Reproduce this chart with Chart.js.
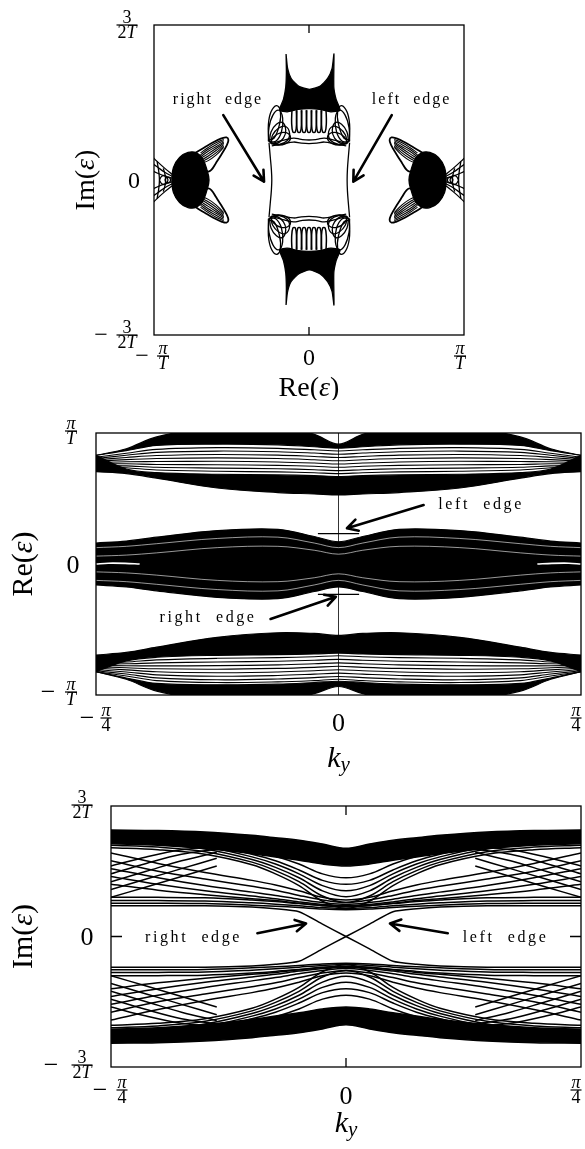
<!DOCTYPE html>
<html>
<head>
<meta charset="utf-8">
<script src="https://cdn.jsdelivr.net/npm/chart.js@4.4.1/dist/chart.umd.min.js"></script>
<style>
  body { margin: 0; background: #fff; width: 585px; height: 1149px; position: relative; overflow: hidden; }
  canvas { position: absolute; left: 0; }
</style>
</head>
<body>
<canvas id="specChart" width="585" height="400" style="top:0"></canvas>
<canvas id="reChart" width="585" height="380" style="top:400px"></canvas>
<canvas id="imChart" width="585" height="369" style="top:780px"></canvas>
<script>
// ---------- tick labels ----------
const specXTicks = [-1, 0, 1];
const specXTickText = ['−π/T', '0', 'π/T'];
const specYTicks = [1, 0, -1];
const specYTickText = ['3/2T', '0', '−3/2T'];
const bandXTicks = [-1, 0, 1];
const bandXTickText = ['−π/4', '0', 'π/4'];
const reYTicks = [1, 0, -1];
const reYTickText = ['π/T', '0', '−π/T'];
const imYTicks = [1, 0, -1];
const imYTickText = ['3/2T', '0', '−3/2T'];

// ---------- panel 1: Im(eps) against Re(eps); x in pi/T, y in 3/(2T) ----------
const specMassX = [-0.148, -0.146, -0.15, -0.165, -0.19, -0.14, -0.07, 0.0, 0.07, 0.14, 0.2, 0.175, 0.16, 0.161, 0.149, 0.12, 0.07, 0.003, -0.065, -0.115, -0.138, -0.148];
const specMassUpY = [0.813, 0.70, 0.60, 0.52, 0.45, 0.44, 0.455, 0.46, 0.455, 0.44, 0.45, 0.52, 0.60, 0.813, 0.72, 0.655, 0.605, 0.585, 0.605, 0.655, 0.72, 0.813];
const specMassDownY = [-0.806, -0.70, -0.60, -0.52, -0.45, -0.44, -0.455, -0.46, -0.455, -0.44, -0.45, -0.52, -0.60, -0.806, -0.72, -0.655, -0.605, -0.58, -0.605, -0.655, -0.72, -0.806];

const specFinger1X = [-0.11, -0.112, -0.104, -0.088, -0.08, -0.082];
const specFinger2X = [-0.078, -0.08, -0.072, -0.056, -0.048, -0.05];
const specFinger3X = [-0.046, -0.048, -0.04, -0.024, -0.016, -0.018];
const specFinger4X = [-0.014, -0.016, -0.008, 0.008, 0.016, 0.014];
const specFinger5X = [0.018, 0.016, 0.024, 0.04, 0.048, 0.046];
const specFinger6X = [0.05, 0.048, 0.056, 0.072, 0.08, 0.078];
const specFinger7X = [0.082, 0.08, 0.088, 0.104, 0.112, 0.11];
const specFingerUpY = [0.45, 0.37, 0.31, 0.31, 0.37, 0.45];
const specFingerDownY = [-0.45, -0.37, -0.31, -0.31, -0.37, -0.45];

const specLoopALeftX = [-0.262, -0.258, -0.232, -0.195, -0.17, -0.178, -0.215, -0.262];
const specLoopARightX = [0.262, 0.258, 0.232, 0.195, 0.17, 0.178, 0.215, 0.262];
const specLoopAUpY = [0.25, 0.34, 0.42, 0.45, 0.40, 0.31, 0.25, 0.25];
const specLoopADownY = [-0.25, -0.34, -0.42, -0.45, -0.40, -0.31, -0.25, -0.25];
const specLoopBLeftX = [-0.255, -0.245, -0.21, -0.17, -0.15, -0.165, -0.21, -0.255];
const specLoopBRightX = [0.255, 0.245, 0.21, 0.17, 0.15, 0.165, 0.21, 0.255];
const specLoopBUpY = [0.245, 0.31, 0.36, 0.37, 0.32, 0.27, 0.235, 0.245];
const specLoopBDownY = [-0.245, -0.31, -0.36, -0.37, -0.32, -0.27, -0.235, -0.245];
const specLoopCLeftX = [-0.25, -0.225, -0.18, -0.135, -0.12, -0.15, -0.2, -0.25];
const specLoopCRightX = [0.25, 0.225, 0.18, 0.135, 0.12, 0.15, 0.2, 0.25];
const specLoopCUpY = [0.24, 0.28, 0.305, 0.30, 0.265, 0.235, 0.225, 0.24];
const specLoopCDownY = [-0.24, -0.28, -0.305, -0.30, -0.265, -0.235, -0.225, -0.24];
const specLoopDLeftX = [-0.26, -0.262, -0.245, -0.21, -0.185, -0.19, -0.225, -0.26];
const specLoopDRightX = [0.26, 0.262, 0.245, 0.21, 0.185, 0.19, 0.225, 0.26];
const specLoopDUpY = [0.26, 0.36, 0.44, 0.48, 0.45, 0.36, 0.27, 0.26];
const specLoopDDownY = [-0.26, -0.36, -0.44, -0.48, -0.45, -0.36, -0.27, -0.26];
const specLoopELeftX = [-0.245, -0.235, -0.195, -0.15, -0.125, -0.14, -0.19, -0.245];
const specLoopERightX = [0.245, 0.235, 0.195, 0.15, 0.125, 0.14, 0.19, 0.245];
const specLoopEUpY = [0.235, 0.29, 0.335, 0.345, 0.30, 0.255, 0.23, 0.235];
const specLoopEDownY = [-0.235, -0.29, -0.335, -0.345, -0.30, -0.255, -0.23, -0.235];

const specWaveX = [-0.24, -0.17, -0.1, -0.05, 0, 0.05, 0.1, 0.17, 0.24];
const specWave1Y = [0.235, 0.255, 0.27, 0.262, 0.258, 0.262, 0.27, 0.255, 0.235];
const specWave2Y = [0.22, 0.232, 0.245, 0.238, 0.235, 0.238, 0.245, 0.232, 0.22];
const specWave3Y = [-0.235, -0.255, -0.27, -0.262, -0.258, -0.262, -0.27, -0.255, -0.235];
const specWave4Y = [-0.22, -0.232, -0.245, -0.238, -0.235, -0.238, -0.245, -0.232, -0.22];

const specEdgeLeftX = [-0.258, -0.25, -0.243, -0.24, -0.243, -0.25, -0.258];
const specEdgeRightX = [0.262, 0.254, 0.248, 0.246, 0.248, 0.254, 0.262];
const specEdgeY = [0.24, 0.15, 0.07, 0, -0.07, -0.15, -0.24];

const specBodyLeftX = [-0.885, -0.875, -0.835, -0.78, -0.725, -0.685, -0.66, -0.645, -0.66, -0.685, -0.725, -0.78, -0.835, -0.875, -0.885];
const specBodyRightX = [0.885, 0.875, 0.835, 0.78, 0.725, 0.685, 0.66, 0.645, 0.66, 0.685, 0.725, 0.78, 0.835, 0.875, 0.885];
const specBodyY = [0, 0.08, 0.145, 0.178, 0.175, 0.135, 0.07, 0, -0.07, -0.135, -0.175, -0.178, -0.145, -0.08, 0];

const specWingLeftX = [-0.74, -0.675, -0.615, -0.565, -0.532, -0.52, -0.53, -0.565, -0.6, -0.63, -0.655, -0.7, -0.74];
const specWingRightX = [0.74, 0.675, 0.615, 0.565, 0.532, 0.52, 0.53, 0.565, 0.6, 0.63, 0.655, 0.7, 0.74];
const specWingUpY = [0.17, 0.21, 0.245, 0.268, 0.275, 0.258, 0.225, 0.165, 0.11, 0.065, 0.055, 0.1, 0.17];
const specWingDownY = [-0.17, -0.21, -0.245, -0.268, -0.275, -0.258, -0.225, -0.165, -0.11, -0.065, -0.055, -0.1, -0.17];
const specRibLeftX = [-0.70, -0.65, -0.60, -0.55];
const specRibRightX = [0.70, 0.65, 0.60, 0.55];
const specRib1Y = [0.175, 0.21, 0.24, 0.262];
const specRib2Y = [0.162, 0.198, 0.228, 0.254];
const specRib3Y = [0.15, 0.185, 0.215, 0.245];
const specRib4Y = [0.138, 0.17, 0.203, 0.237];
const specRib5Y = [0.125, 0.155, 0.19, 0.228];
const specRib6Y = [0.115, 0.14, 0.175, 0.219];
const specRib7Y = [0.105, 0.125, 0.16, 0.21];
const specRib8Y = [-0.175, -0.21, -0.24, -0.262];
const specRib9Y = [-0.162, -0.198, -0.228, -0.254];
const specRib10Y = [-0.15, -0.185, -0.215, -0.245];
const specRib11Y = [-0.138, -0.17, -0.203, -0.237];
const specRib12Y = [-0.125, -0.155, -0.19, -0.228];
const specRib13Y = [-0.115, -0.14, -0.175, -0.219];
const specRib14Y = [-0.105, -0.125, -0.16, -0.21];

const specBowLeftX = [-0.875, -0.93, -0.98, -1.03];
const specBowRightX = [0.875, 0.93, 0.98, 1.03];
const specBow1Y = [0.03, 0.075, 0.12, 0.17];
const specBow2Y = [0.02, 0.05, 0.085, 0.12];
const specBow3Y = [0.01, 0.025, 0.045, 0.07];
const specBow4Y = [-0.03, -0.075, -0.12, -0.17];
const specBow5Y = [-0.02, -0.05, -0.085, -0.12];
const specBow6Y = [-0.01, -0.025, -0.045, -0.07];
const specArcOuterLeftX = [-0.98, -0.97, -0.965, -0.97, -0.98];
const specArcOuterRightX = [0.98, 0.97, 0.965, 0.97, 0.98];
const specArcOuterY = [0.12, 0.06, 0, -0.06, -0.12];
const specArcInnerLeftX = [-0.94, -0.93, -0.925, -0.93, -0.94];
const specArcInnerRightX = [0.94, 0.93, 0.925, 0.93, 0.94];
const specArcInnerY = [0.075, 0.04, 0, -0.04, -0.075];
const specRing1LeftX = [-0.965, -0.95, -0.925, -0.91, -0.925, -0.95, -0.965];
const specRing1RightX = [0.965, 0.95, 0.925, 0.91, 0.925, 0.95, 0.965];
const specRing1Y = [0, 0.024, 0.027, 0, -0.027, -0.024, 0];
const specRing2LeftX = [-0.93, -0.92, -0.903, -0.893, -0.903, -0.92, -0.93];
const specRing2RightX = [0.93, 0.92, 0.903, 0.893, 0.903, 0.92, 0.93];
const specRing2Y = [0, 0.015, 0.017, 0, -0.017, -0.015, 0];

// ---------- panel 2: Re(eps) against k_y; x in pi/4, y in pi/T ----------
const reK = [-1, -0.875, -0.75, -0.5, -0.25, -0.1, 0, 0.1, 0.25, 0.5, 0.75, 0.875, 1];
const reTopCapUp = [0.83, 0.88, 0.97, 1.05, 1.05, 0.99, 0.915, 0.99, 1.05, 1.05, 0.97, 0.88, 0.83];
const reTopCapLow = [0.83, 0.865, 0.905, 0.915, 0.91, 0.895, 0.885, 0.895, 0.91, 0.915, 0.905, 0.865, 0.83];
const reTopS1 = [0.815, 0.845, 0.875, 0.888, 0.883, 0.872, 0.863, 0.872, 0.883, 0.888, 0.875, 0.845, 0.815];
const reTopS2 = [0.805, 0.83, 0.852, 0.862, 0.857, 0.847, 0.838, 0.847, 0.857, 0.862, 0.852, 0.83, 0.805];
const reTopS3 = [0.795, 0.813, 0.828, 0.836, 0.831, 0.821, 0.813, 0.821, 0.831, 0.836, 0.828, 0.813, 0.795];
const reTopS4 = [0.785, 0.797, 0.805, 0.81, 0.805, 0.796, 0.788, 0.796, 0.805, 0.81, 0.805, 0.797, 0.785];
const reTopS5 = [0.775, 0.781, 0.782, 0.784, 0.779, 0.771, 0.763, 0.771, 0.779, 0.784, 0.782, 0.781, 0.775];
const reTopS6 = [0.765, 0.765, 0.76, 0.758, 0.753, 0.746, 0.738, 0.746, 0.753, 0.758, 0.76, 0.765, 0.765];
const reTopS7 = [0.755, 0.749, 0.738, 0.732, 0.727, 0.72, 0.713, 0.72, 0.727, 0.732, 0.738, 0.749, 0.755];
const reTopS8 = [0.745, 0.735, 0.717, 0.708, 0.703, 0.697, 0.69, 0.697, 0.703, 0.708, 0.717, 0.735, 0.745];
const reTopThickUp = [0.83, 0.725, 0.698, 0.685, 0.68, 0.675, 0.668, 0.675, 0.68, 0.685, 0.698, 0.725, 0.83];
const reTopLow = [0.705, 0.69, 0.655, 0.58, 0.545, 0.535, 0.527, 0.535, 0.545, 0.58, 0.655, 0.69, 0.705];

const reMidUp = [0.16, 0.175, 0.205, 0.255, 0.265, 0.21, 0.17, 0.21, 0.265, 0.255, 0.205, 0.175, 0.16];
const reMidLow = [-0.16, -0.175, -0.205, -0.255, -0.265, -0.21, -0.175, -0.21, -0.265, -0.255, -0.205, -0.175, -0.16];
const reMidGapA = [0.125, 0.135, 0.155, 0.195, 0.205, 0.16, 0.125, 0.16, 0.205, 0.195, 0.155, 0.135, 0.125];
const reMidGapB = [0.06, 0.068, 0.085, 0.125, 0.135, 0.105, 0.075, 0.105, 0.135, 0.125, 0.085, 0.068, 0.06];
const reMidGapC = [-0.06, -0.068, -0.085, -0.125, -0.135, -0.105, -0.075, -0.105, -0.135, -0.125, -0.085, -0.068, -0.06];
const reMidGapD = [-0.125, -0.135, -0.155, -0.195, -0.205, -0.16, -0.125, -0.16, -0.205, -0.195, -0.155, -0.135, -0.125];
const reLensLeftX = [-1, -0.95, -0.88, -0.82];
const reLensRightX = [1, 0.95, 0.88, 0.82];
const reLensY = [0, 0.006, 0.005, 0];
const reEdgeX = [-0.085, 0, 0.085];
const reEdgeUpY = [0.232, 0.232, 0.232];
const reEdgeLowY = [-0.232, -0.232, -0.232];

const reBotThickUp = [-0.695, -0.675, -0.635, -0.56, -0.525, -0.53, -0.545, -0.53, -0.525, -0.56, -0.635, -0.675, -0.695];
const reBotThickLow = [-0.822, -0.74, -0.712, -0.697, -0.692, -0.687, -0.68, -0.687, -0.692, -0.697, -0.712, -0.74, -0.822];
const reBotS1 = [-0.755, -0.748, -0.732, -0.72, -0.715, -0.708, -0.7, -0.708, -0.715, -0.72, -0.732, -0.748, -0.755];
const reBotS2 = [-0.765, -0.762, -0.755, -0.748, -0.742, -0.735, -0.728, -0.735, -0.742, -0.748, -0.755, -0.762, -0.765];
const reBotS3 = [-0.775, -0.777, -0.778, -0.776, -0.77, -0.762, -0.755, -0.762, -0.77, -0.776, -0.778, -0.777, -0.775];
const reBotS4 = [-0.785, -0.792, -0.8, -0.803, -0.797, -0.789, -0.781, -0.789, -0.797, -0.803, -0.8, -0.792, -0.785];
const reBotS5 = [-0.795, -0.808, -0.823, -0.83, -0.824, -0.815, -0.807, -0.815, -0.824, -0.83, -0.823, -0.808, -0.795];
const reBotS6 = [-0.805, -0.824, -0.846, -0.857, -0.851, -0.841, -0.833, -0.841, -0.851, -0.857, -0.846, -0.824, -0.805];
const reBotS7 = [-0.815, -0.84, -0.869, -0.884, -0.878, -0.867, -0.859, -0.867, -0.878, -0.884, -0.869, -0.84, -0.815];
const reBotS8 = [-0.822, -0.855, -0.89, -0.905, -0.9, -0.89, -0.88, -0.89, -0.9, -0.905, -0.89, -0.855, -0.822];
const reBotCapUp = [-0.822, -0.87, -0.912, -0.922, -0.917, -0.905, -0.895, -0.905, -0.917, -0.922, -0.912, -0.87, -0.822];
const reBotCapLow = [-0.822, -0.88, -0.97, -1.05, -1.05, -0.99, -0.935, -0.99, -1.05, -1.05, -0.97, -0.88, -0.822];

// ---------- panel 3: Im(eps) against k_y; x in pi/4, y in 3/(2T) ----------
const imK = [-1, -0.8, -0.6, -0.4, -0.3, -0.2, -0.1, 0, 0.1, 0.2, 0.3, 0.4, 0.6, 0.8, 1];
const imTopEnv = [0.816, 0.812, 0.80, 0.775, 0.757, 0.737, 0.708, 0.676, 0.708, 0.737, 0.757, 0.775, 0.80, 0.812, 0.816];
const imTopDark = [0.71, 0.70, 0.675, 0.635, 0.61, 0.585, 0.555, 0.54, 0.555, 0.585, 0.61, 0.635, 0.675, 0.70, 0.71];
const imBowl1 = [0.68, 0.665, 0.63, 0.55, 0.48, 0.39, 0.27, 0.215, 0.27, 0.39, 0.48, 0.55, 0.63, 0.665, 0.68];
const imBowl2 = [0.70, 0.685, 0.65, 0.57, 0.505, 0.42, 0.31, 0.26, 0.31, 0.42, 0.505, 0.57, 0.65, 0.685, 0.70];
const imBowl3 = [0.72, 0.705, 0.67, 0.59, 0.53, 0.45, 0.35, 0.305, 0.35, 0.45, 0.53, 0.59, 0.67, 0.705, 0.72];
const imBowl4 = [0.74, 0.725, 0.69, 0.61, 0.555, 0.48, 0.39, 0.35, 0.39, 0.48, 0.555, 0.61, 0.69, 0.725, 0.74];
const imBowl5 = [0.76, 0.745, 0.71, 0.63, 0.58, 0.51, 0.43, 0.40, 0.43, 0.51, 0.58, 0.63, 0.71, 0.745, 0.76];
const imBowl6 = [0.78, 0.765, 0.735, 0.66, 0.615, 0.555, 0.48, 0.45, 0.48, 0.555, 0.615, 0.66, 0.735, 0.765, 0.78];
const imCross1 = [0.64, 0.56, 0.49, 0.43, 0.395, 0.35, 0.30, 0.28, 0.30, 0.35, 0.395, 0.43, 0.49, 0.56, 0.64];
const imCross2 = [0.58, 0.50, 0.44, 0.385, 0.355, 0.315, 0.28, 0.26, 0.28, 0.315, 0.355, 0.385, 0.44, 0.50, 0.58];
const imCross3 = [0.52, 0.45, 0.39, 0.34, 0.315, 0.285, 0.26, 0.245, 0.26, 0.285, 0.315, 0.34, 0.39, 0.45, 0.52];
const imCross4 = [0.46, 0.40, 0.35, 0.31, 0.29, 0.265, 0.245, 0.235, 0.245, 0.265, 0.29, 0.31, 0.35, 0.40, 0.46];
const imCross5 = [0.40, 0.355, 0.32, 0.29, 0.275, 0.255, 0.238, 0.23, 0.238, 0.255, 0.275, 0.29, 0.32, 0.355, 0.40];
const imFlat1 = [0.255, 0.255, 0.252, 0.24, 0.232, 0.222, 0.21, 0.205, 0.21, 0.222, 0.232, 0.24, 0.252, 0.255, 0.255];
const imFlat2 = [0.275, 0.275, 0.272, 0.258, 0.248, 0.235, 0.222, 0.215, 0.222, 0.235, 0.248, 0.258, 0.272, 0.275, 0.275];
const imFlat3 = [0.30, 0.30, 0.296, 0.28, 0.268, 0.252, 0.236, 0.228, 0.236, 0.252, 0.268, 0.28, 0.296, 0.30, 0.30];
const imEdgeR = [0.236, 0.236, 0.235, 0.226, 0.213, 0.19, 0.095, 0, -0.095, -0.19, -0.213, -0.226, -0.235, -0.236, -0.236];
const imEdgeL = [-0.236, -0.236, -0.235, -0.226, -0.213, -0.19, -0.095, 0, 0.095, 0.19, 0.213, 0.226, 0.235, 0.236, 0.236];

const imBotEnv = [-0.818, -0.814, -0.80, -0.775, -0.757, -0.737, -0.708, -0.676, -0.708, -0.737, -0.757, -0.775, -0.80, -0.814, -0.818];
const imBotDark = [-0.71, -0.70, -0.675, -0.635, -0.61, -0.585, -0.555, -0.54, -0.555, -0.585, -0.61, -0.635, -0.675, -0.70, -0.71];
const imBowl7 = [-0.68, -0.665, -0.63, -0.55, -0.48, -0.39, -0.27, -0.215, -0.27, -0.39, -0.48, -0.55, -0.63, -0.665, -0.68];
const imBowl8 = [-0.70, -0.685, -0.65, -0.57, -0.505, -0.42, -0.31, -0.26, -0.31, -0.42, -0.505, -0.57, -0.65, -0.685, -0.70];
const imBowl9 = [-0.72, -0.705, -0.67, -0.59, -0.53, -0.45, -0.35, -0.305, -0.35, -0.45, -0.53, -0.59, -0.67, -0.705, -0.72];
const imBowl10 = [-0.74, -0.725, -0.69, -0.61, -0.555, -0.48, -0.39, -0.35, -0.39, -0.48, -0.555, -0.61, -0.69, -0.725, -0.74];
const imBowl11 = [-0.76, -0.745, -0.71, -0.63, -0.58, -0.51, -0.43, -0.40, -0.43, -0.51, -0.58, -0.63, -0.71, -0.745, -0.76];
const imBowl12 = [-0.78, -0.765, -0.735, -0.66, -0.615, -0.555, -0.48, -0.45, -0.48, -0.555, -0.615, -0.66, -0.735, -0.765, -0.78];
const imCross6 = [-0.64, -0.56, -0.49, -0.43, -0.395, -0.35, -0.30, -0.28, -0.30, -0.35, -0.395, -0.43, -0.49, -0.56, -0.64];
const imCross7 = [-0.58, -0.50, -0.44, -0.385, -0.355, -0.315, -0.28, -0.26, -0.28, -0.315, -0.355, -0.385, -0.44, -0.50, -0.58];
const imCross8 = [-0.52, -0.45, -0.39, -0.34, -0.315, -0.285, -0.26, -0.245, -0.26, -0.285, -0.315, -0.34, -0.39, -0.45, -0.52];
const imCross9 = [-0.46, -0.40, -0.35, -0.31, -0.29, -0.265, -0.245, -0.235, -0.245, -0.265, -0.29, -0.31, -0.35, -0.40, -0.46];
const imCross10 = [-0.40, -0.355, -0.32, -0.29, -0.275, -0.255, -0.238, -0.23, -0.238, -0.255, -0.275, -0.29, -0.32, -0.355, -0.40];
const imFlat4 = [-0.255, -0.255, -0.252, -0.24, -0.232, -0.222, -0.21, -0.205, -0.21, -0.222, -0.232, -0.24, -0.252, -0.255, -0.255];
const imFlat5 = [-0.275, -0.275, -0.272, -0.258, -0.248, -0.235, -0.222, -0.215, -0.222, -0.235, -0.248, -0.258, -0.272, -0.275, -0.275];
const imFlat6 = [-0.30, -0.30, -0.296, -0.28, -0.268, -0.252, -0.236, -0.228, -0.236, -0.252, -0.268, -0.28, -0.296, -0.30, -0.30];

const imRiseLeftX = [-1, -0.85, -0.7, -0.55];
const imRiseRightX = [1, 0.85, 0.7, 0.55];
const imRise1 = [0.30, 0.38, 0.46, 0.54];
const imRise2 = [0.36, 0.44, 0.52, 0.60];
const imRise3 = [0.42, 0.50, 0.58, 0.645];
const imRise4 = [0.48, 0.56, 0.63, 0.67];
const imRise5 = [0.54, 0.61, 0.665, 0.69];
const imRise6 = [-0.30, -0.38, -0.46, -0.54];
const imRise7 = [-0.36, -0.44, -0.52, -0.60];
const imRise8 = [-0.42, -0.50, -0.58, -0.645];
const imRise9 = [-0.48, -0.56, -0.63, -0.67];
const imRise10 = [-0.54, -0.61, -0.665, -0.69];

// annotations, in data units
const specNotes = [{ at: [-0.587, 0.516], text: 'right edge' }, { at: [0.662, 0.516], text: 'left edge' }];
const specArrows = [{ from: [-0.553, 0.419], to: [-0.29, -0.011] }, { from: [0.534, 0.419], to: [0.286, -0.011] }];
const reNotes = [{ at: [0.588, 0.45], text: 'left edge' }, { at: [-0.538, -0.412], text: 'right edge' }];
const reArrows = [{ from: [0.351, 0.45], to: [0.035, 0.273] }, { from: [-0.28, -0.42], to: [-0.011, -0.25] }];
const imNotes = [{ at: [-0.649, -0.011], text: 'right edge' }, { at: [0.679, -0.011], text: 'left edge' }];
const imArrows = [{ from: [-0.377, 0.025], to: [-0.17, 0.10] }, { from: [0.433, 0.025], to: [0.187, 0.10] }];

const INK = '#000';
const SERIF = '"Liberation Serif", "DejaVu Serif", serif';

const pts = (xs, ys) => xs.map((x, i) => ({ x, y: ys[i] }));
const curve = (xs, ys, o = {}) => ({
    data: pts(xs, ys), borderColor: INK, borderWidth: 1.2, pointRadius: 0,
    fill: false, tension: 0.35, order: 2, ...o,
});
const shape = (xs, ys, o = {}) => curve(xs, ys, { fill: 'shape', backgroundColor: INK, order: 3, ...o });
const streak = (xs, ys, o = {}) => curve(xs, ys, { borderColor: '#fff', borderWidth: 0.6, order: 1, ...o });
const band = (xs, up, low, o = {}) => [
    curve(xs, up, { fill: '+1', backgroundColor: INK, order: 3, ...o }),
    curve(xs, low, { order: 3, ...o }),
];

// --- text helpers ---
const ITALIC = /[Tπεk]/;
const font = (size, italic) => `${italic ? 'italic ' : ''}${size}px ${SERIF}`;
const toPieces = (s) => [...s].map((t) => ({ t, i: ITALIC.test(t) }));

function drawRun(ctx, pieces, cx, baseY, size) {
    let w = 0;
    const widths = pieces.map((p) => {
        ctx.font = font(p.sub ? size * 0.7 : size, p.i);
        const m = ctx.measureText(p.t).width;
        w += m;
        return m;
    });
    let x = cx - w / 2;
    pieces.forEach((p, k) => {
        ctx.font = font(p.sub ? size * 0.7 : size, p.i);
        ctx.fillText(p.t, x, baseY + (p.sub ? size * 0.22 : 0));
        x += widths[k];
    });
    return w;
}

function drawTick(ctx, text, cx, cy, fracSize, bigSize, signGap) {
    ctx.textAlign = 'left';
    ctx.textBaseline = 'alphabetic';
    let body = text;
    let neg = false;
    if (body.startsWith('−')) { neg = true; body = body.slice(1); }
    if (body.includes('/')) {
        const [num, den] = body.split('/');
        const wn = drawRun(ctx, toPieces(num), cx, cy - 2.5, fracSize);
        const wd = drawRun(ctx, toPieces(den), cx, cy + fracSize * 0.7, fracSize);
        const bw = Math.max(wn, wd) + 2;
        ctx.fillRect(cx - bw / 2, cy - 0.6, bw, 1.2);
    } else {
        drawRun(ctx, toPieces(body), cx, cy + bigSize * 0.33, bigSize);
    }
    if (neg) {
        drawRun(ctx, [{ t: '−', i: false }], cx + signGap, cy + bigSize * 0.3, bigSize);
    }
}

function drawArrow(ctx, x1, y1, x2, y2) {
    const ang = Math.atan2(y2 - y1, x2 - x1);
    const head = 12;
    ctx.beginPath();
    ctx.moveTo(x1, y1);
    ctx.lineTo(x2, y2);
    ctx.moveTo(x2 - head * Math.cos(ang - 0.5), y2 - head * Math.sin(ang - 0.5));
    ctx.lineTo(x2, y2);
    ctx.lineTo(x2 - head * Math.cos(ang + 0.5), y2 - head * Math.sin(ang + 0.5));
    ctx.stroke();
}

const makeFrame = (cfg) => ({
    id: 'frame',
    beforeDatasetsDraw(chart) {
        if (!cfg.axisLine) return;
        const { ctx, chartArea: area, scales: { x } } = chart;
        const px = x.getPixelForValue(0);
        ctx.save();
        ctx.strokeStyle = INK;
        ctx.lineWidth = 0.8;
        ctx.beginPath();
        ctx.moveTo(px, area.top);
        ctx.lineTo(px, area.bottom);
        ctx.stroke();
        ctx.restore();
    },
    afterDatasetsDraw(chart) {
        const { ctx, chartArea: area, scales: { x, y } } = chart;
        ctx.save();
        ctx.strokeStyle = INK;
        ctx.fillStyle = INK;
        ctx.lineWidth = 1.3;
        ctx.strokeRect(area.left, area.top, area.right - area.left, area.bottom - area.top);

        const x0 = x.getPixelForValue(0);
        const y0 = y.getPixelForValue(0);
        ctx.beginPath();
        ctx.moveTo(x0, area.top); ctx.lineTo(x0, area.top + cfg.tickLen);
        ctx.moveTo(x0, area.bottom); ctx.lineTo(x0, area.bottom - cfg.tickLen);
        if (cfg.sideTicks) {
            ctx.moveTo(area.left, y0); ctx.lineTo(area.left + cfg.sideTicks, y0);
            ctx.moveTo(area.right, y0); ctx.lineTo(area.right - cfg.sideTicks, y0);
        }
        ctx.stroke();

        cfg.yTicks.forEach((v, k) => {
            const isFrac = cfg.yText[k].includes('/');
            const cx = area.left + (isFrac ? cfg.yFracDx : cfg.yZeroDx);
            drawTick(ctx, cfg.yText[k], cx, y.getPixelForValue(v) + cfg.yDy[k], cfg.fracSize, cfg.bigSize, cfg.ySignGap);
        });
        cfg.xTicks.forEach((v, k) => {
            const isFrac = cfg.xText[k].includes('/');
            const cy = area.bottom + (isFrac ? cfg.xFracDy : cfg.xZeroDy);
            drawTick(ctx, cfg.xText[k], x.getPixelForValue(v) + cfg.xDx[k], cy, cfg.fracSize, cfg.bigSize, cfg.xSignGap);
        });

        // axis titles
        ctx.textBaseline = 'middle';
        ctx.textAlign = 'left';
        drawRun(ctx, cfg.xTitle, (area.left + area.right) / 2, area.bottom + cfg.xTitleDy, cfg.titleSize);
        ctx.save();
        ctx.translate(area.left + cfg.yTitleDx, (area.top + area.bottom) / 2);
        ctx.rotate(-Math.PI / 2);
        drawRun(ctx, cfg.yTitle, 0, 0, cfg.titleSize);
        ctx.restore();

        // notes and arrows
        ctx.font = font(cfg.noteSize, false);
        ctx.textAlign = 'center';
        ctx.textBaseline = 'middle';
        if ('letterSpacing' in ctx) ctx.letterSpacing = cfg.noteSpacing + 'px';
        cfg.notes.forEach((n) => {
            ctx.fillText(n.text.replace(' ', '  '), x.getPixelForValue(n.at[0]), y.getPixelForValue(n.at[1]));
        });
        if ('letterSpacing' in ctx) ctx.letterSpacing = '0px';
        ctx.lineWidth = 2.6;
        ctx.lineCap = 'round';
        ctx.lineJoin = 'round';
        cfg.arrows.forEach((a) => {
            drawArrow(ctx,
                x.getPixelForValue(a.from[0]), y.getPixelForValue(a.from[1]),
                x.getPixelForValue(a.to[0]), y.getPixelForValue(a.to[1]));
        });
        ctx.restore();
    },
});

const baseOptions = (padding) => ({
    responsive: false,
    animation: false,
    events: [],
    layout: { padding },
    plugins: { legend: { display: false }, tooltip: { enabled: false } },
    scales: {
        x: { type: 'linear', min: -1, max: 1, display: false },
        y: { type: 'linear', min: -1, max: 1, display: false },
    },
});

const RE_TITLE = [{ t: 'Re(', i: false }, { t: 'ε', i: true }, { t: ')', i: false }];
const IM_TITLE = [{ t: 'Im(', i: false }, { t: 'ε', i: true }, { t: ')', i: false }];
const KY_TITLE = [{ t: 'k', i: true }, { t: 'y', i: true, sub: true }];

// ---------- panel 1 ----------
const p1 = { borderWidth: 1.3, tension: 0.4 };
const loopPairs = [
    [specLoopALeftX, specLoopARightX, specLoopAUpY, specLoopADownY],
    [specLoopBLeftX, specLoopBRightX, specLoopBUpY, specLoopBDownY],
    [specLoopCLeftX, specLoopCRightX, specLoopCUpY, specLoopCDownY],
    [specLoopDLeftX, specLoopDRightX, specLoopDUpY, specLoopDDownY],
    [specLoopELeftX, specLoopERightX, specLoopEUpY, specLoopEDownY],
];
const ribYs = [specRib1Y, specRib2Y, specRib3Y, specRib4Y, specRib5Y, specRib6Y, specRib7Y,
    specRib8Y, specRib9Y, specRib10Y, specRib11Y, specRib12Y, specRib13Y, specRib14Y];
const specSets = [
    shape(specMassX, specMassUpY, { ...p1, tension: 0.2 }),
    shape(specMassX, specMassDownY, { ...p1, tension: 0.2 }),
    ...[specFinger1X, specFinger2X, specFinger3X, specFinger4X, specFinger5X, specFinger6X, specFinger7X].flatMap((fx) => [
        curve(fx, specFingerUpY, { ...p1, borderWidth: 1.5 }), curve(fx, specFingerDownY, { ...p1, borderWidth: 1.5 }),
    ]),
    ...loopPairs.flatMap(([lx, rx, uy, dy]) => [
        curve(lx, uy, p1), curve(rx, uy, p1), curve(lx, dy, p1), curve(rx, dy, p1),
    ]),
    curve(specWaveX, specWave1Y, p1), curve(specWaveX, specWave2Y, p1),
    curve(specWaveX, specWave3Y, p1), curve(specWaveX, specWave4Y, p1),
    curve(specEdgeLeftX, specEdgeY, p1), curve(specEdgeRightX, specEdgeY, p1),
    shape(specBodyLeftX, specBodyY, p1), shape(specBodyRightX, specBodyY, p1),
    curve(specWingLeftX, specWingUpY, { ...p1, borderWidth: 1.8 }), curve(specWingRightX, specWingUpY, { ...p1, borderWidth: 1.8 }),
    curve(specWingLeftX, specWingDownY, { ...p1, borderWidth: 1.8 }), curve(specWingRightX, specWingDownY, { ...p1, borderWidth: 1.8 }),
    ...ribYs.flatMap((ry) => [
        curve(specRibLeftX, ry, { ...p1, borderWidth: 1.1 }), curve(specRibRightX, ry, { ...p1, borderWidth: 1.1 }),
    ]),
    ...[specBow1Y, specBow2Y, specBow3Y, specBow4Y, specBow5Y, specBow6Y].flatMap((by) => [
        curve(specBowLeftX, by, p1), curve(specBowRightX, by, p1),
    ]),
    curve(specArcOuterLeftX, specArcOuterY, p1), curve(specArcOuterRightX, specArcOuterY, p1),
    curve(specArcInnerLeftX, specArcInnerY, p1), curve(specArcInnerRightX, specArcInnerY, p1),
    curve(specRing1LeftX, specRing1Y, p1), curve(specRing1RightX, specRing1Y, p1),
    curve(specRing2LeftX, specRing2Y, p1), curve(specRing2RightX, specRing2Y, p1),
];

new Chart(document.getElementById('specChart'), {
    type: 'line',
    data: { datasets: specSets },
    options: baseOptions({ left: 154, right: 121, top: 25, bottom: 65 }),
    plugins: [makeFrame({
        tickLen: 8, sideTicks: 0, axisLine: false,
        yTicks: specYTicks, yText: specYTickText, yFracDx: -27, yZeroDx: -20, yDy: [0, 0, 0], ySignGap: -26,
        xTicks: specXTicks, xText: specXTickText, xDx: [9, 0, -4], xFracDy: 21, xZeroDy: 22, xSignGap: -21,
        fracSize: 18, bigSize: 24, titleSize: 28,
        xTitle: RE_TITLE, xTitleDy: 54, yTitle: IM_TITLE, yTitleDx: -67,
        noteSize: 16, noteSpacing: 2.0, notes: specNotes, arrows: specArrows,
    })],
});

// ---------- panel 2 ----------
const reSets = [
    curve(reEdgeX, reEdgeUpY, { order: 0 }), curve(reEdgeX, reEdgeLowY, { order: 0 }),
    ...band(reK, reTopCapUp, reTopCapLow),
    ...band(reK, reTopThickUp, reTopLow),
    ...[reTopS1, reTopS2, reTopS3, reTopS4, reTopS5, reTopS6, reTopS7, reTopS8].map((s) => curve(reK, s, { borderWidth: 1.1 })),
    ...band(reK, reMidUp, reMidLow),
    ...[reMidGapA, reMidGapB, reMidGapC, reMidGapD].map((s) => streak(reK, s)),
    streak(reLensLeftX, reLensY, { borderWidth: 1.6 }), streak(reLensRightX, reLensY, { borderWidth: 1.6 }),
    ...band(reK, reBotThickUp, reBotThickLow),
    ...[reBotS1, reBotS2, reBotS3, reBotS4, reBotS5, reBotS6, reBotS7, reBotS8].map((s) => curve(reK, s, { borderWidth: 1.1 })),
    ...band(reK, reBotCapUp, reBotCapLow),
];

new Chart(document.getElementById('reChart'), {
    type: 'line',
    data: { datasets: reSets },
    options: baseOptions({ left: 96, right: 4, top: 33, bottom: 85 }),
    plugins: [makeFrame({
        tickLen: 0, sideTicks: 0, axisLine: true,
        yTicks: reYTicks, yText: reYTickText, yFracDx: -25, yZeroDx: -23, yDy: [-2, 0, -3], ySignGap: -23,
        xTicks: bandXTicks, xText: bandXTickText, xDx: [10, 0, -5], xFracDy: 23, xZeroDy: 27, xSignGap: -19,
        fracSize: 18, bigSize: 26, titleSize: 30,
        xTitle: KY_TITLE, xTitleDy: 64, yTitle: RE_TITLE, yTitleDx: -72,
        noteSize: 16, noteSpacing: 2.6, notes: reNotes, arrows: reArrows,
    })],
});

// ---------- panel 3 ----------
const im = { borderWidth: 1.5 };
const imSets = [
    curve(imK, imEdgeR, { ...im, order: 0, tension: 0.2 }), curve(imK, imEdgeL, { ...im, order: 0, tension: 0.2 }),
    ...band(imK, imTopEnv, imTopDark, im),
    ...band(imK, imBotDark, imBotEnv, im),
    ...[imBowl1, imBowl2, imBowl3, imBowl4, imBowl5, imBowl6, imBowl7, imBowl8, imBowl9, imBowl10, imBowl11, imBowl12]
        .map((s) => curve(imK, s, im)),
    ...[imCross1, imCross2, imCross3, imCross4, imCross5, imCross6, imCross7, imCross8, imCross9, imCross10]
        .map((s) => curve(imK, s, im)),
    ...[imFlat1, imFlat2, imFlat3, imFlat4, imFlat5, imFlat6].map((s) => curve(imK, s, im)),
    ...[imRise1, imRise2, imRise3, imRise4, imRise5, imRise6, imRise7, imRise8, imRise9, imRise10].flatMap((s) => [
        curve(imRiseLeftX, s, im), curve(imRiseRightX, s, im),
    ]),
];

new Chart(document.getElementById('imChart'), {
    type: 'line',
    data: { datasets: imSets },
    options: baseOptions({ left: 111, right: 4, top: 26, bottom: 82 }),
    plugins: [makeFrame({
        tickLen: 9, sideTicks: 11, axisLine: false,
        yTicks: imYTicks, yText: imYTickText, yFracDx: -29, yZeroDx: -24, yDy: [-1, 0, -2], ySignGap: -31,
        xTicks: bandXTicks, xText: bandXTickText, xDx: [11, 0, -5], xFracDy: 23, xZeroDy: 28, xSignGap: -22,
        fracSize: 18, bigSize: 26, titleSize: 30,
        xTitle: KY_TITLE, xTitleDy: 57, yTitle: IM_TITLE, yTitleDx: -87,
        noteSize: 16, noteSpacing: 2.6, notes: imNotes, arrows: imArrows,
    })],
});
</script>
</body>
</html>
